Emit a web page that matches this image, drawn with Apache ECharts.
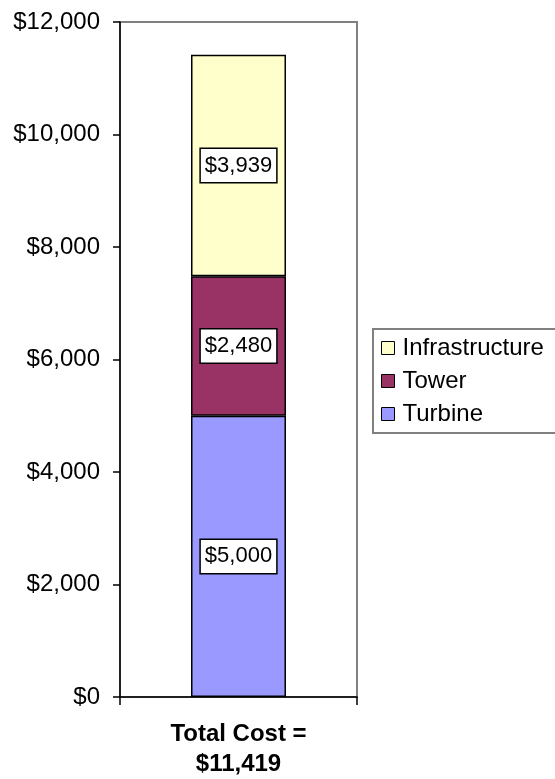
<!DOCTYPE html>
<html>
<head>
<meta charset="utf-8">
<script src="https://cdn.jsdelivr.net/npm/echarts@6/dist/echarts.min.js"></script>
<style>
html,body{margin:0;padding:0;background:#fff;}
#chart{width:555px;height:779px;}
</style>
</head>
<body>
<div id="chart"></div>
<script>
const categories = ['Total Cost =\n$11,419'];
const seriesNames = ['Turbine', 'Tower', 'Infrastructure'];
const turbine = [5000];
const tower = [2480];
const infrastructure = [3939];
const legendOrder = ['Infrastructure', 'Tower', 'Turbine'];
const yTicks = { min: 0, max: 12000, interval: 2000 };
const colors = { Turbine: '#9999FF', Tower: '#993366', Infrastructure: '#FFFFCC' };

const FONT = '"Liberation Sans", Arial, Helvetica, sans-serif';
function money(v) { return '$' + Number(v).toLocaleString('en-US'); }

const valuesByName = { Turbine: turbine, Tower: tower, Infrastructure: infrastructure };

const chart = echarts.init(document.getElementById('chart'), null, { renderer: 'canvas' });
chart.setOption({
  animation: false,
  backgroundColor: '#fff',
  textStyle: { fontFamily: FONT },
  grid: { left: 120, right: 198, top: 22, bottom: 80, show: true, borderColor: '#808080', borderWidth: 2, backgroundColor: 'transparent' },
  legend: {
    data: legendOrder,
    orient: 'vertical',
    left: 373,
    top: 329,
    padding: [7, 30, 7, 8],
    itemGap: 9,
    itemWidth: 13,
    itemHeight: 13,
    borderColor: '#808080',
    borderWidth: 2,
    icon: 'rect',
    textStyle: { fontFamily: FONT, fontSize: 24, color: '#000', lineHeight: 24, padding: [0,0,0,3] },
    itemStyle: { borderColor: '#000', borderWidth: 1 }
  },
  xAxis: {
    type: 'category',
    data: categories,
    boundaryGap: true,
    axisLine: { lineStyle: { color: '#000', width: 1.5 } },
    axisTick: { show: true, length: 8, lineStyle: { color: '#000', width: 1.5 } },
    axisLabel: { color: '#000', fontFamily: FONT, fontSize: 24, fontWeight: 'bold', lineHeight: 30, margin: 22 }
  },
  yAxis: {
    type: 'value',
    min: yTicks.min, max: yTicks.max, interval: yTicks.interval,
    axisLine: { show: true, lineStyle: { color: '#000', width: 1.5 } },
    axisTick: { show: true, length: 7, lineStyle: { color: '#000', width: 1.5 } },
    splitLine: { show: false },
    axisLabel: { color: '#000', fontFamily: FONT, fontSize: 24, margin: 20, formatter: money }
  },
  series: seriesNames.map(name => ({
    name: name,
    type: 'bar',
    stack: 'total',
    barWidth: 95,
    data: valuesByName[name],
    itemStyle: { color: colors[name], borderColor: '#000', borderWidth: 1.5 },
    label: {
      show: true,
      position: 'inside',
      formatter: p => money(p.value),
      color: '#000',
      fontFamily: FONT,
      fontSize: 22,
      backgroundColor: '#fff',
      borderColor: '#000',
      borderWidth: 1.5,
      padding: [6, 4, 5, 4]
    }
  }))
});
</script>
</body>
</html>
